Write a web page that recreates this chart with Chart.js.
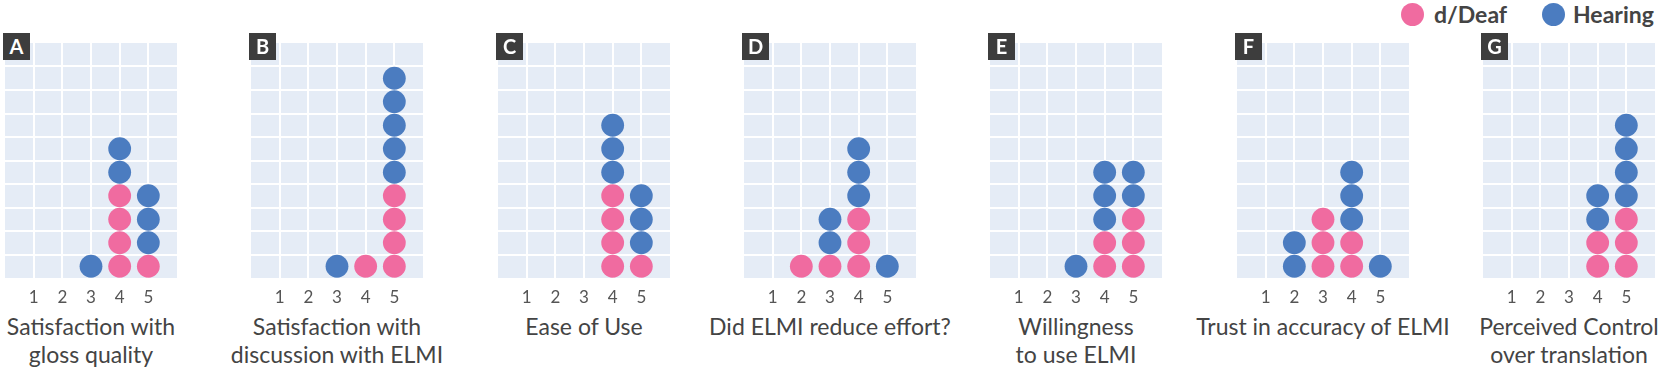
<!DOCTYPE html>
<html>
<head>
<meta charset="utf-8">
<script src="https://cdn.jsdelivr.net/npm/chart.js@4.4.1/dist/chart.umd.min.js"></script>
<style>
  html,body{margin:0;padding:0;background:#fff;}
  body{width:1660px;height:371px;position:relative;overflow:hidden;font-family:Lato,"Noto Sans",sans-serif;}
  canvas{position:absolute;}
  .tag{position:absolute;top:33px;width:27px;height:27px;background:#3d3d3d;color:#fff;font-weight:700;font-size:20px;line-height:27px;text-align:center;z-index:5;}
  .title{position:absolute;top:312px;width:280px;text-align:center;font-size:23px;line-height:28px;color:#444;}
  .legend{position:absolute;top:1px;font-size:23px;font-weight:700;color:#444;line-height:26px;}
  .dot{position:absolute;width:23px;height:23px;border-radius:50%;top:3px;}
</style>
</head>
<body>
<div class="dot" style="left:1401px;background:#F06BA0"></div>
<div class="legend" style="left:1434px">d/Deaf</div>
<div class="dot" style="left:1542px;background:#4B7CC0"></div>
<div class="legend" style="left:1573px">Hearing</div>
<script>
// ---- data ----
const categories = [1, 2, 3, 4, 5];
const panelLetters = ["A", "B", "C", "D", "E", "F", "G"];
const panelTitles = [
  ["Satisfaction with", "gloss quality"],
  ["Satisfaction with", "discussion with ELMI"],
  ["Ease of Use"],
  ["Did ELMI reduce effort?"],
  ["Willingness", "to use ELMI"],
  ["Trust in accuracy of ELMI"],
  ["Perceived Control", "over translation"]
];
// counts of responses per rating 1..5
const deafCounts = [
  [0, 0, 0, 4, 1],
  [0, 0, 0, 1, 4],
  [0, 0, 0, 4, 1],
  [0, 1, 1, 3, 0],
  [0, 0, 0, 2, 3],
  [0, 0, 3, 2, 0],
  [0, 0, 0, 2, 3]
];
const hearingCounts = [
  [0, 0, 1, 2, 3],
  [0, 0, 1, 0, 5],
  [0, 0, 0, 3, 3],
  [0, 0, 2, 3, 1],
  [0, 0, 1, 3, 2],
  [0, 2, 0, 3, 1],
  [0, 0, 0, 2, 4]
];
const seriesNames = ["d/Deaf", "Hearing"];

// ---- style ----
const PINK = "#F06BA0", BLUE = "#4B7CC0", BG = "#E5ECF6";
const PLOT_W = 172, PLOT_H = 235, PLOT_TOP = 43, FIRST_LEFT = 5, STEP = 246.33;

const bgPlugin = {
  id: "bg",
  beforeDraw(chart) {
    const a = chart.chartArea, c = chart.ctx;
    c.save(); c.fillStyle = BG; c.fillRect(a.left, a.top, a.right - a.left, a.bottom - a.top); c.restore();
  }
};

function stackPoints(deaf, hearing) {
  const d = [], h = [];
  categories.forEach((cat, i) => {
    for (let k = 0; k < deaf[i]; k++) d.push({ x: cat, y: k + 0.5 });
    for (let k = 0; k < hearing[i]; k++) h.push({ x: cat, y: deaf[i] + k + 0.5 });
  });
  return [d, h];
}

panelLetters.forEach((letter, p) => {
  const left = Math.round(FIRST_LEFT + p * STEP);
  const cv = document.createElement("canvas");
  cv.width = PLOT_W; cv.height = PLOT_H + 34;
  cv.style.left = left + "px"; cv.style.top = PLOT_TOP + "px";
  cv.style.width = PLOT_W + "px"; cv.style.height = (PLOT_H + 34) + "px";
  document.body.appendChild(cv);

  const tag = document.createElement("div");
  tag.className = "tag"; tag.textContent = letter; tag.style.left = (left - 2) + "px";
  document.body.appendChild(tag);

  const t = document.createElement("div");
  t.className = "title";
  t.style.left = (left + PLOT_W / 2 - 140) + "px";
  t.innerHTML = panelTitles[p].join("<br>");
  document.body.appendChild(t);

  const [d, h] = stackPoints(deafCounts[p], hearingCounts[p]);
  const edge = (v, lo, hi) => (v === lo || v === hi) ? "rgba(0,0,0,0)" : "#ffffff";
  new Chart(cv, {
    type: "scatter",
    data: {
      datasets: [
        { label: seriesNames[0], data: d, backgroundColor: PINK, borderWidth: 0, pointRadius: 11.4, pointHoverRadius: 11.4, clip: false },
        { label: seriesNames[1], data: h, backgroundColor: BLUE, borderWidth: 0, pointRadius: 11.4, pointHoverRadius: 11.4, clip: false }
      ]
    },
    options: {
      responsive: false, animation: false, maintainAspectRatio: false,
      layout: { padding: 0, autoPadding: false },
      plugins: { legend: { display: false }, tooltip: { enabled: false } },
      scales: {
        x: {
          type: "linear", min: 0, max: 6,
          ticks: {
            stepSize: 1, autoSkip: false, maxRotation: 0, padding: 9,
            color: "#555", font: { family: "Lato", size: 17 },
            callback: v => categories.includes(v) ? String(v) : ""
          },
          grid: { color: c => edge(c.tick.value, 0, 6), lineWidth: 2, drawTicks: false },
          border: { display: false },
          afterFit: s => { s.height = 34; s.paddingLeft = 0; s.paddingRight = 0; }
        },
        y: {
          min: 0, max: 10,
          ticks: { display: false, stepSize: 1 },
          grid: { color: c => edge(c.tick.value, 0, 10), lineWidth: 2, drawTicks: false },
          border: { display: false },
          afterFit: s => { s.width = 0; s.paddingTop = 0; s.paddingBottom = 0; }
        }
      }
    },
    plugins: [bgPlugin]
  });
});
</script>
</body>
</html>
